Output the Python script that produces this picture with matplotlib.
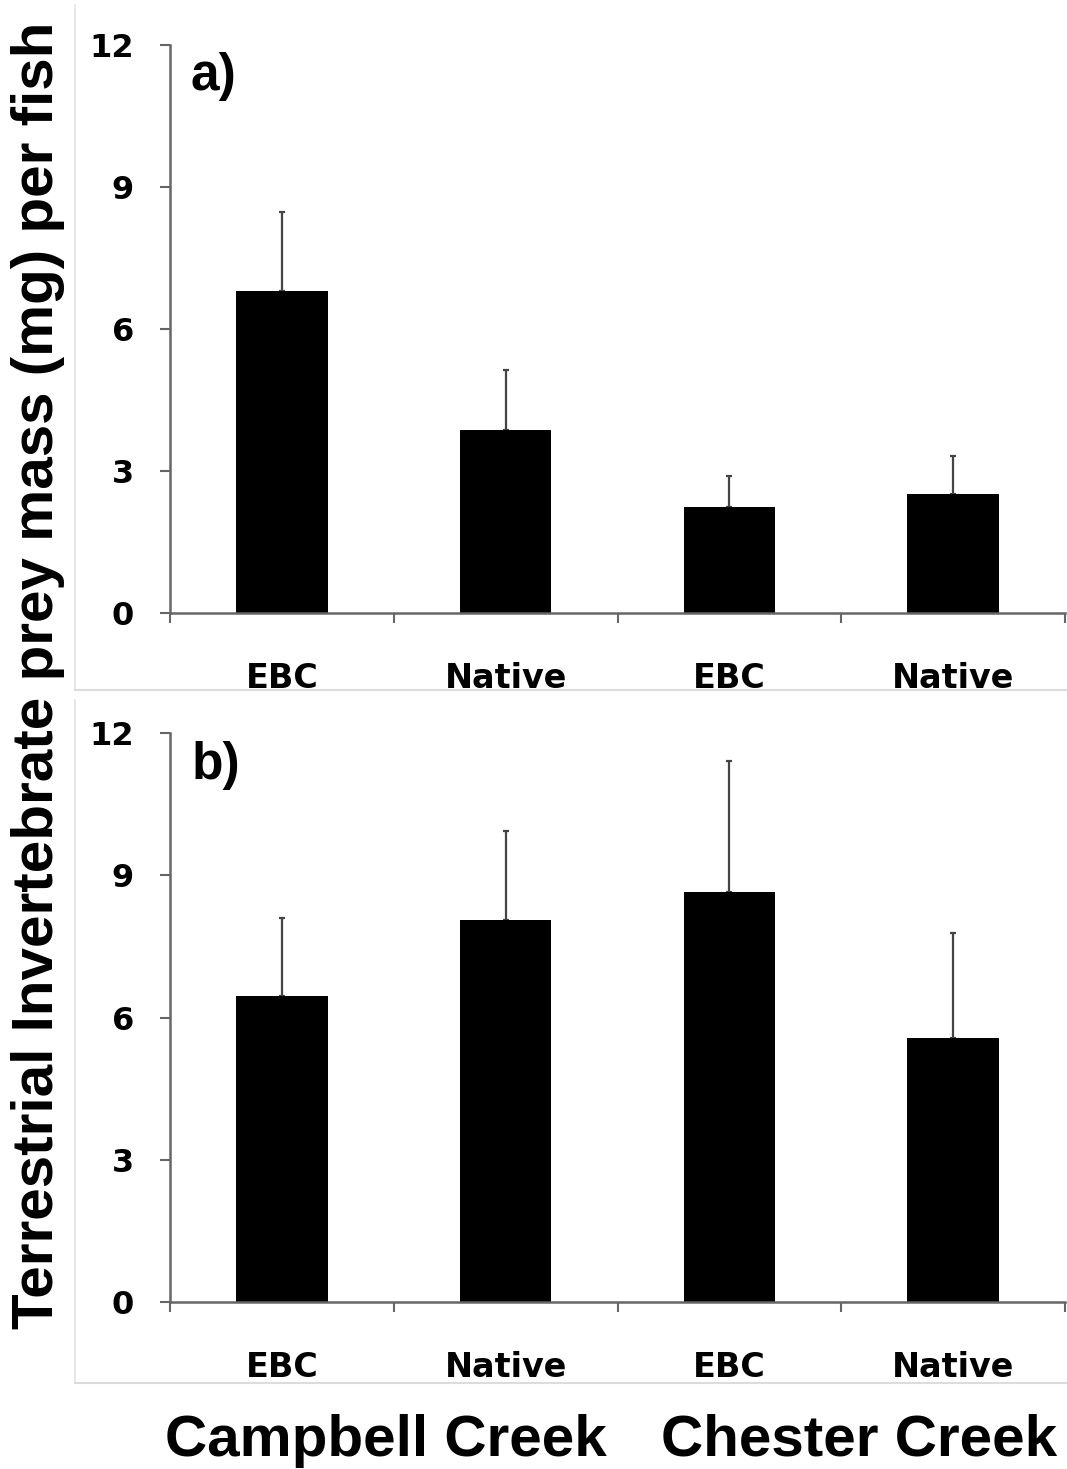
import matplotlib
matplotlib.use("Agg")
import matplotlib.pyplot as plt
from matplotlib.lines import Line2D

plt.rcParams['font.family'] = ['Liberation Sans', 'DejaVu Sans']

categories = ["EBC", "Native", "EBC", "Native"]
creeks = ["Campbell Creek", "Chester Creek"]
panel_labels = ["a)", "b)"]
means_a = [6.8, 3.87, 2.24, 2.52]
err_a = [1.68, 1.27, 0.66, 0.80]
means_b = [6.46, 8.06, 8.65, 5.57]
err_b = [1.64, 1.88, 2.76, 2.21]
yticks = [0, 3, 6, 9, 12]
ylabel = "Terrestrial Invertebrate prey mass (mg) per fish"

W, H = 1067, 1469
fig = plt.figure(figsize=(W / 100, H / 100), dpi=100)

def px_axes(left, right, top, bottom):
    return [left / W, 1 - bottom / H, (right - left) / W, (bottom - top) / H]

# faint chart-area borders
fig.add_artist(Line2D([75 / W, 75 / W], [1 - 5 / H, 1 - 690 / H], color="#e3e3e3", lw=1.2))
fig.add_artist(Line2D([75 / W, 1.0], [1 - 690 / H, 1 - 690 / H], color="#dcdcdc", lw=1.5))
fig.add_artist(Line2D([75 / W, 75 / W], [1 - 700 / H, 1 - 1383 / H], color="#e3e3e3", lw=1.2))
fig.add_artist(Line2D([75 / W, 1.0], [1 - 1383 / H, 1 - 1383 / H], color="#dcdcdc", lw=1.5))

axes_px = [(170, 1065, 45, 613), (170, 1065, 733, 1302)]
data = [(means_a, err_a), (means_b, err_b)]
label_pos = [(190, 90), (192, 779)]

tick_font = dict(family="DejaVu Sans", fontweight="bold")

for (l, r, t, b), (m, e), lab, (lx, ly) in zip(axes_px, data, panel_labels, label_pos):
    ax = fig.add_axes(px_axes(l, r, t, b))
    x = [i + 0.5 for i in range(len(m))]
    ax.bar(x, m, width=0.41, color="black", zorder=2)
    ax.errorbar(x, m, yerr=[[0] * len(e), e], fmt="none", ecolor="#444444",
                elinewidth=1.6, capsize=2, capthick=1.6, zorder=1)
    ax.set_xlim(0, 4)
    ax.set_ylim(0, 12)
    ax.set_yticks(yticks)
    ax.set_yticklabels([str(v) for v in yticks], fontsize=23, **tick_font)
    ax.set_xticks([0, 1, 2, 3, 4])
    ax.set_xticklabels([])
    ax.set_xticks(x, minor=True)
    ax.set_xticklabels(categories, minor=True, fontsize=24, **tick_font)
    ax.tick_params(axis="x", which="minor", length=0, pad=35)
    ax.tick_params(axis="x", which="major", length=7, width=1.5, color="#666666", direction="out")
    ax.tick_params(axis="y", length=7, width=1.5, color="#666666", direction="out", pad=19)
    for s in ["top", "right"]:
        ax.spines[s].set_visible(False)
    for s in ["left", "bottom"]:
        ax.spines[s].set_color("#666666")
        ax.spines[s].set_linewidth(1.8)
        ax.spines[s].set_zorder(3)
    fig.text(lx / W, 1 - ly / H, lab, fontsize=37, fontweight="bold", ha="left", va="baseline")

fig.text(38 / W, 1 - 675 / H, ylabel, rotation=90, fontsize=42, fontweight="bold",
         ha="center", va="center")
fig.text(386 / W, 1 - 1441 / H, creeks[0], fontsize=42, fontweight="bold", ha="center", va="center")
fig.text(859 / W, 1 - 1441 / H, creeks[1], fontsize=42, fontweight="bold", ha="center", va="center")

fig.savefig("out.png", dpi=100, facecolor="white")
